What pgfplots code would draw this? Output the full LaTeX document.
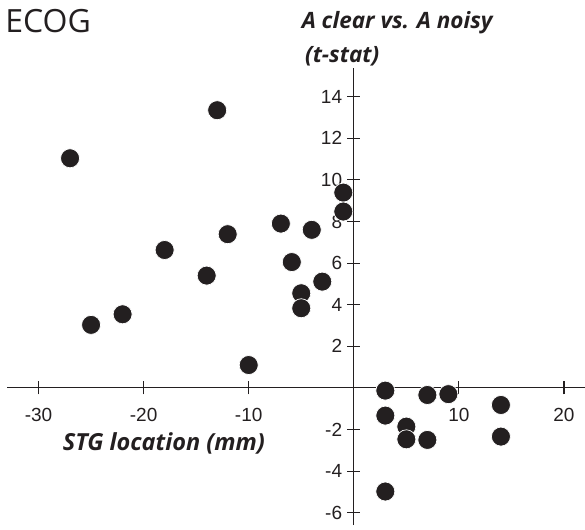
\documentclass[border=0pt]{standalone}
\usepackage{pgfplots}
\pgfplotsset{compat=1.18}
\usepackage{fontspec}
\setmainfont{Liberation Sans}
\newfontfamily\myriad{Open Sans}
\usetikzlibrary{calc}
\definecolor{ink}{HTML}{231F20}
\pgfplotstableread{
x y
-13 13.35
-27 11.04
-6.94 7.9
-12 7.39
-18 6.63
-4 7.6
-1 9.39
-1 8.48
-5.9 6.05
-14 5.4
-22 3.54
-25 3.03
-10 1.1
-5 4.55
-5 3.83
-3 5.11
3 -0.13
3 -1.33
5 -1.86
5 -2.47
7 -0.34
7 -2.5
9 -0.3
14 -0.82
14 -2.34
3 -4.98
}\ecog
\begin{document}
\begin{tikzpicture}
\begin{axis}[
  scale only axis, width=578pt, height=457pt,
  xmin=-33, xmax=22, ymin=-6.59, ymax=15.38,
  axis lines=middle,
  axis line style={-, ink, line width=1.1pt},
  major tick style={ink, line width=1.1pt},
  major tick length=13pt, tick align=center,
  xtick={-30,-20,-10,0,10,20},
  xticklabels={-30,-20,-10,,10,20},
  ytick={-6,-4,-2,0,2,4,6,8,10,12,14},
  yticklabels={-6,-4,-2,,2,4,6,8,10,12,14},
  ticklabel style={font=\fontsize{19}{22}\selectfont, text=ink},
  xticklabel style={anchor=base, yshift=-27pt, inner sep=0pt},
  yticklabel style={anchor=east, xshift=-5pt, inner sep=0pt},
  clip=false,
]
\addplot[only marks, mark=*, mark size=9.5pt, mark options={fill=ink, draw=white, line width=0.7pt}] table[x=x,y=y] {\ecog};
\coordinate (bl) at (rel axis cs:0,0);
\coordinate (tr) at (rel axis cs:1,1);
\node[anchor=base west, inner sep=0pt, text=ink, font=\myriad\fontsize{32}{36}\selectfont] at (axis cs:-33.18,17.07) {ECOG};
\node[anchor=base west, inner sep=0pt, text=ink, font=\myriad\fontsize{22.5}{26}\selectfont\bfseries\itshape] at (axis cs:-4.97,17.3) {A clear vs. A noisy};
\node[anchor=base west, inner sep=0pt, text=ink, font=\myriad\fontsize{22.5}{26}\selectfont\bfseries\itshape] at (axis cs:-4.65,15.63) {(t-stat)};
\node[anchor=base west, inner sep=0pt, text=ink, font=\myriad\fontsize{23.5}{27}\selectfont\bfseries\itshape] at (axis cs:-27.7,-3.03) {STG location (mm)};
\end{axis}
\pgfresetboundingbox
\path ($(bl)+(-7pt,-4pt)$) rectangle ($(tr)+(0pt,68pt)$);
\end{tikzpicture}
\end{document}
